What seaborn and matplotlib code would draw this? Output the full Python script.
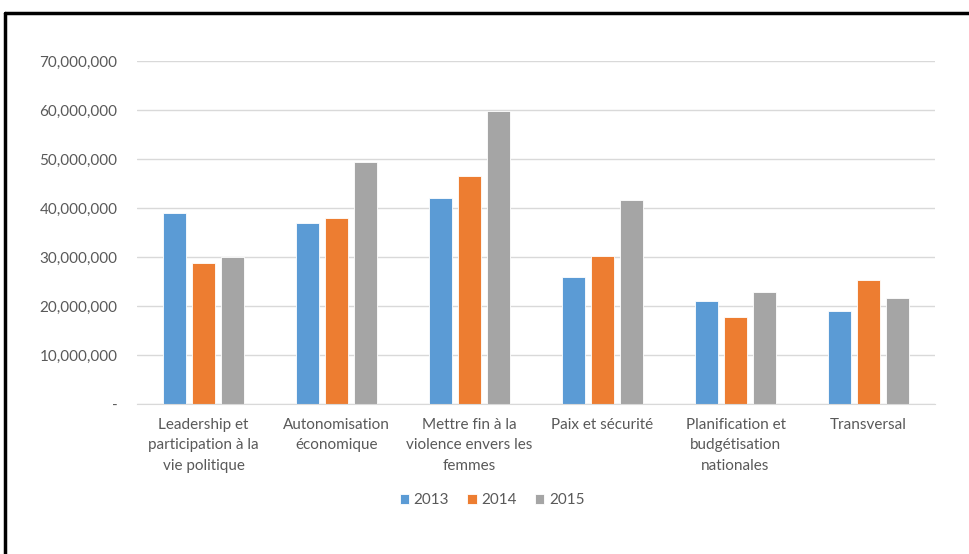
import matplotlib
matplotlib.use("Agg")
import matplotlib.pyplot as plt
import seaborn as sns
import pandas as pd
from matplotlib.ticker import FuncFormatter
from matplotlib.lines import Line2D

categories = [
    "Leadership et\nparticipation à la\nvie politique",
    "Autonomisation\néconomique",
    "Mettre fin à la\nviolence envers les\nfemmes",
    "Paix et sécurité",
    "Planification et\nbudgétisation\nnationales",
    "Transversal",
]
years = ["2013", "2014", "2015"]
values_2013 = [39.0e6, 37.0e6, 42.0e6, 26.0e6, 21.0e6, 19.0e6]
values_2014 = [28.8e6, 37.9e6, 46.5e6, 30.3e6, 17.8e6, 25.3e6]
values_2015 = [29.9e6, 49.3e6, 59.8e6, 41.6e6, 22.9e6, 21.7e6]
colors = ["#5B9BD5", "#ED7D31", "#A5A5A5"]

rows = []
for yr, vals in zip(years, [values_2013, values_2014, values_2015]):
    for c, v in zip(categories, vals):
        rows.append({"cat": c, "year": yr, "value": v})
df = pd.DataFrame(rows)

sns.set_style("white")
plt.rcParams["font.family"] = ["Lato", "DejaVu Sans"]

fig = plt.figure(figsize=(9.69, 5.54), dpi=100)
ax = fig.add_axes([137 / 969, 1 - 404 / 554, (935 - 137) / 969, (404 - 61) / 554])

sns.barplot(data=df, x="cat", y="value", hue="year", order=categories,
            hue_order=years, palette=colors, width=0.665, gap=0.22,
            edgecolor="white", linewidth=0.6, ax=ax, saturation=1)

ax.set_ylim(0, 70e6)
ax.set_yticks([i * 10e6 for i in range(8)])
ax.yaxis.set_major_formatter(FuncFormatter(lambda v, p: "-" if v == 0 else f"{int(v):,}"))
ax.grid(axis="y", color="#D9D9D9", linewidth=1)
ax.set_axisbelow(True)
for s in ["top", "right", "left"]:
    ax.spines[s].set_visible(False)
ax.spines["bottom"].set_color("#D9D9D9")
ax.tick_params(axis="both", length=0, labelsize=11, colors="#595959", pad=14)
ax.tick_params(axis="x", pad=10)
for lab in ax.get_xticklabels():
    lab.set_linespacing(1.6)
ax.set_xlabel("")
ax.set_ylabel("")

ax.legend(loc="upper center", bbox_to_anchor=(0.445, -0.22), ncol=3, frameon=False,
          fontsize=11, handlelength=0.6, handleheight=0.6, handletextpad=0.3,
          columnspacing=1.2, labelcolor="#595959")

fig.add_artist(Line2D([5 / 969, 5 / 969], [0, 1 - 13 / 554], transform=fig.transFigure,
                      color="black", linewidth=2.5))
fig.add_artist(Line2D([5 / 969, 1], [1 - 13 / 554, 1 - 13 / 554], transform=fig.transFigure,
                      color="black", linewidth=2.5))

fig.savefig("out.png", dpi=100)
